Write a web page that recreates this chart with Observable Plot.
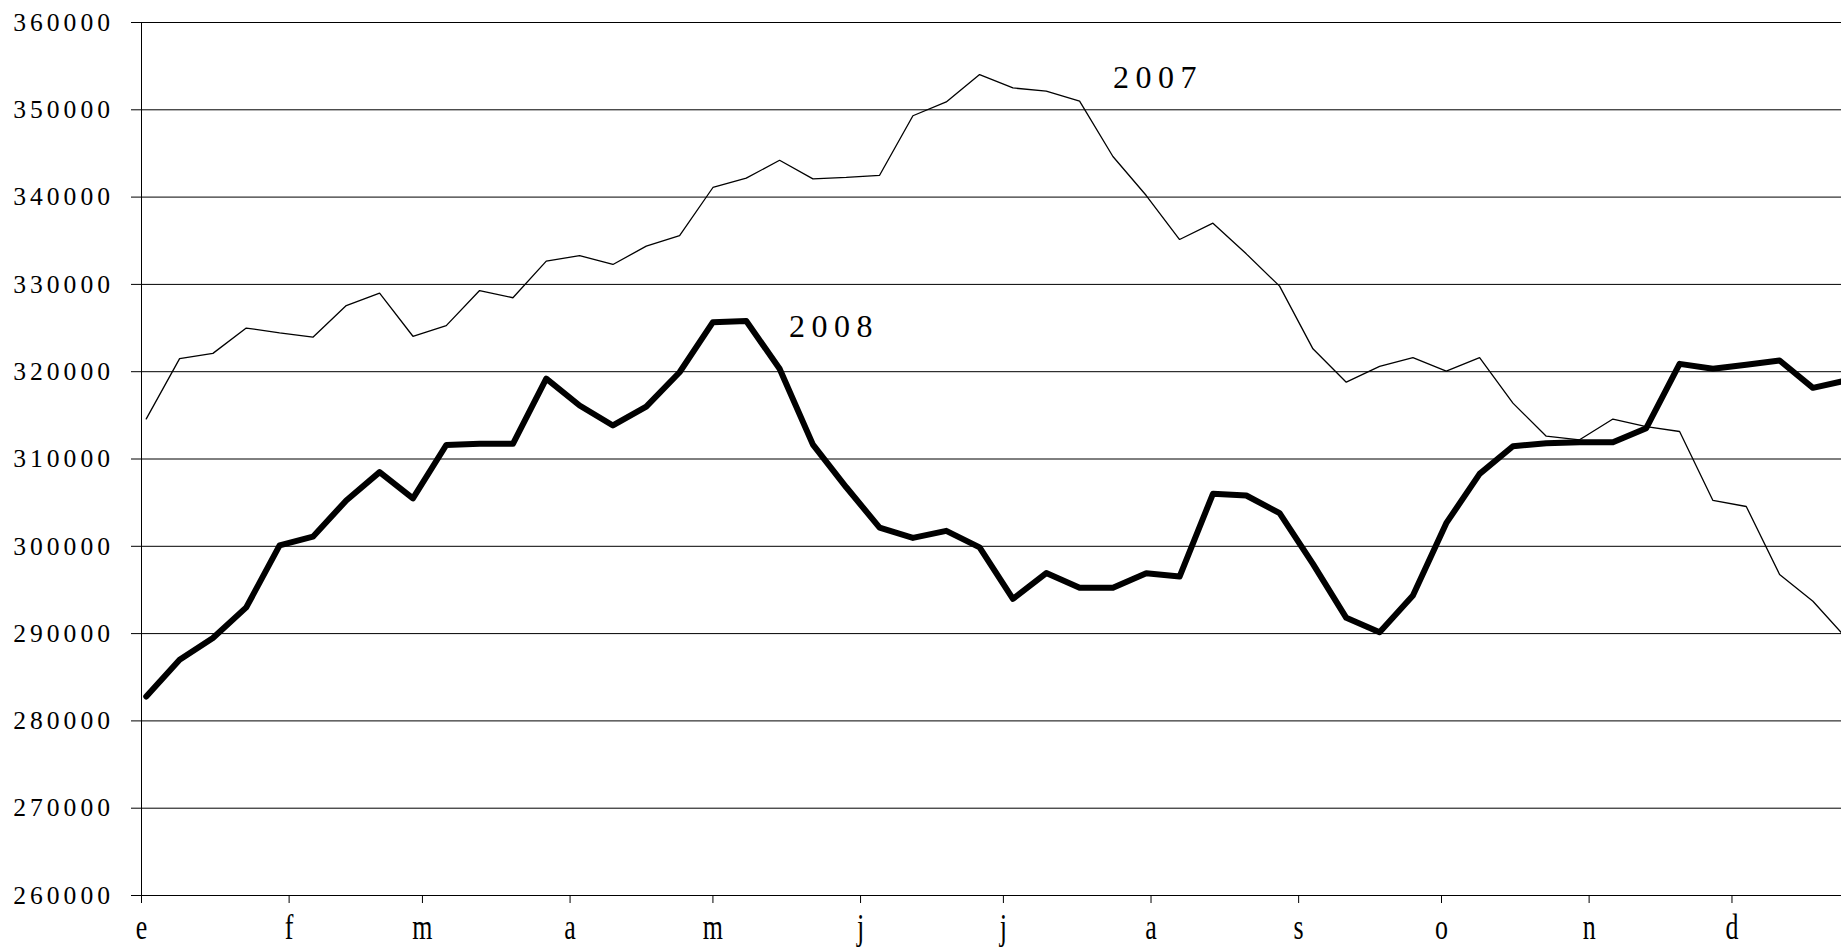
<!DOCTYPE html>
<html>
<head>
<meta charset="utf-8">
<script src="https://cdn.jsdelivr.net/npm/d3@7"></script>
<script src="https://cdn.jsdelivr.net/npm/@observablehq/plot@0.6"></script>
<style>
  html, body { margin: 0; padding: 0; background: #ffffff; }
  #chart svg { display: block; font-family: "Liberation Serif", "Times New Roman", serif; }
  g[aria-label="y-axis tick label"] { font-size: 25.6px; letter-spacing: 4px; }
  g[aria-label="x-axis tick label"] { font-size: 36px; }
</style>
</head>
<body>
<div id="chart"></div>
<script>
// ---- data (weekly values) ----
const monthLabels = ["e", "f", "m", "a", "m", "j", "j", "a", "s", "o", "n", "d"];
const yTicks = [260000, 270000, 280000, 290000, 300000, 310000, 320000, 330000, 340000, 350000, 360000];

const values2007 = [
  314600, 321500, 322100, 325000, 324450, 323950, 327580, 329000, 324060, 325280,
  329300, 328470, 332660, 333300, 332280, 334380, 335600, 341100, 342170, 344220,
  342090, 342270, 342500, 349320, 350900, 354040, 352500, 352140, 351000, 344650,
  340180, 335140, 337010, 333500, 329800, 322620, 318800, 320600, 321620, 320060,
  321620, 316400, 312610, 312200, 314580, 313700, 313150, 305250, 304560, 296770,
  293710, 289500
];
const values2008 = [
  282800, 287000, 289500, 293000, 300100, 301100, 305250, 308500, 305500, 311600,
  311740, 311740, 319200, 316130, 313840, 316000, 319940, 325670, 325800, 320340,
  311650, 306760, 302140, 300960, 301770, 299870, 293980, 296930, 295240, 295240,
  296920, 296540, 306010, 305820, 303800, 297990, 291810, 290160, 294360, 302650,
  308300, 311460, 311800, 311920, 311920, 313530, 320900, 320330, 320790, 321280,
  318150, 319000
];
// series name labels: day of year and value where each label sits
const seriesLabels = [
  { year: "2007", day: 204, value: 353640 },
  { year: "2008", day: 136, value: 325180 }
];

// ---- build tables ----
const DAY = 864e5;
const start = Date.UTC(2007, 0, 1);
const weekDate = (i) => new Date(start + (1 + 7 * i) * DAY);
const rows2007 = values2007.map((v, i) => ({ date: weekDate(i), value: v }));
const rows2008 = values2008.map((v, i) => ({ date: weekDate(i), value: v }));
const monthStarts = monthLabels.map((_, m) => new Date(Date.UTC(2007, m, 1)));

const chart = Plot.plot({
  width: 1841,
  height: 947,
  marginLeft: 141,
  marginRight: 0,
  marginTop: 22,
  marginBottom: 52,
  style: { background: "#ffffff", color: "#000000", fontFamily: "'Liberation Serif', serif" },
  x: { type: "utc", domain: [new Date(start), new Date(start + 357 * DAY)], label: null },
  y: { domain: [260000, 360000], label: null },
  marks: [
    Plot.ruleY(yTicks, { stroke: "#000", strokeWidth: 1 }),
    Plot.ruleX([new Date(start)], { stroke: "#000", strokeWidth: 1 }),
    Plot.axisY({
      ticks: yTicks, tickSize: 10, tickPadding: 17.5, label: null,
      tickFormat: (d) => String(d), stroke: "#000"
    }),
    Plot.axisX({
      ticks: monthStarts, tickSize: 8, tickPadding: 10, label: null,
      tickFormat: (d) => monthLabels[d.getUTCMonth()], stroke: "#000"
    }),
    Plot.line(rows2007, { x: "date", y: "value", stroke: "#000", strokeWidth: 1.3, strokeLinejoin: "miter", clip: true }),
    Plot.line(rows2008, { x: "date", y: "value", stroke: "#000", strokeWidth: 6, strokeLinejoin: "round", clip: true }),
    Plot.text(seriesLabels, {
      x: (d) => new Date(start + d.day * DAY), y: "value", text: "year",
      textAnchor: "start", lineAnchor: "middle", fill: "#000", fontSize: 32
    })
  ]
});

document.getElementById("chart").appendChild(chart);

// letter-spaced series labels
chart.querySelectorAll('g[aria-label="text"] text').forEach((t) => {
  t.style.letterSpacing = "6.5px";
});

// condensed month letters, as in the reference
chart.querySelectorAll('g[aria-label="x-axis tick label"] text').forEach((t) => {
  const tr = t.getAttribute("transform") || "";
  const x = t.getAttribute("x");
  if (x !== null) t.setAttribute("x", String(parseFloat(x) / 0.72));
  t.setAttribute("transform", tr + " scale(0.72,1)");
});
</script>
</body>
</html>
